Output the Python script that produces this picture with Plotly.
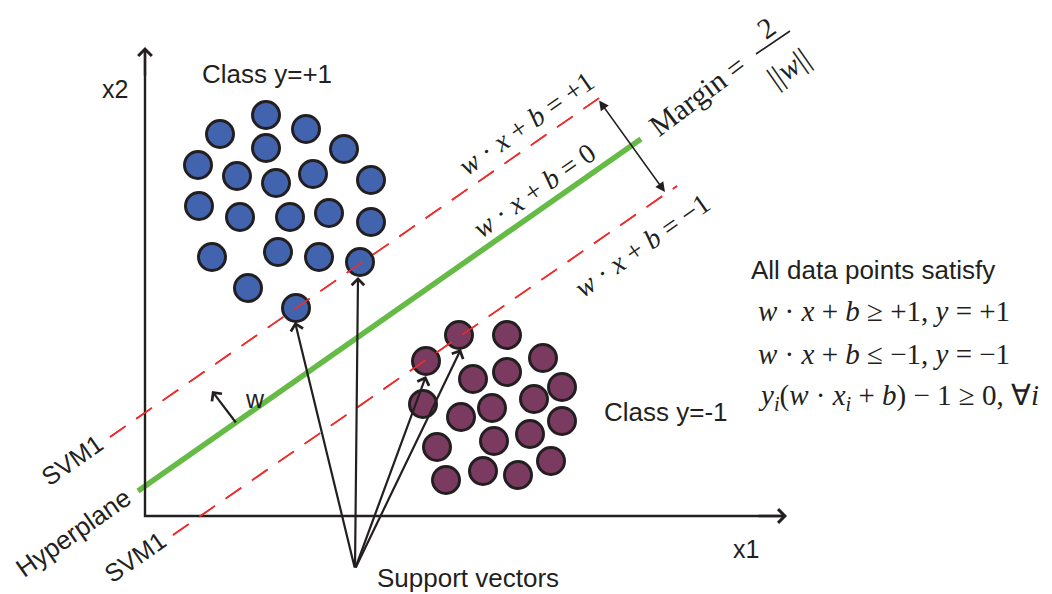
import plotly.graph_objects as go

# ---------------- data (diagram coordinates, pixel-like units, y downward) ----------------
blue_x = [266, 220, 306, 266, 344, 198, 237, 276, 313, 371, 199, 240, 290, 329, 371, 212, 278, 319, 360, 248, 296]
blue_y = [115, 134, 129, 148, 149, 165, 176, 183, 174, 180, 206, 217, 217, 213, 222, 257, 252, 257, 262, 288, 308]

purple_x = [459, 507, 426, 543, 473, 507, 562, 534, 423, 492, 461, 562, 494, 530, 437, 551, 446, 483, 518]
purple_y = [335, 335, 361, 358, 379, 372, 387, 399, 404, 408, 417, 421, 441, 434, 447, 461, 480, 471, 475]

hyper_x = [138, 641]
hyper_y = [491, 139]
plus_x = [110, 602]
plus_y = [437, 96]
minus_x = [173, 677]
minus_y = [535, 186]

axis_origin = (145, 516)
axis_x_end = 787
axis_y_end = 47

sv_origin = (355, 569)
sv_tip_x = [295, 358, 426, 461]
sv_tip_y = [322, 277, 376, 349]

# ---------------- figure ----------------
BLUE = "#4264ae"
PURPLE = "#7b3a60"
GREEN = "#66bb47"
RED = "#ee2c2c"
INK = "#231f20"
SANS = "Liberation Sans, Arial, sans-serif"
SERIF = "Liberation Serif, Times New Roman, serif"

fig = go.Figure()

def dashed(xs, ys):
    fig.add_trace(go.Scatter(x=xs, y=ys, mode="lines",
                             line=dict(color=RED, width=1.6, dash="19px,13px"),
                             hoverinfo="skip", showlegend=False))

dashed(plus_x, plus_y)
dashed(minus_x, minus_y)

# hyperplane
fig.add_trace(go.Scatter(x=hyper_x, y=hyper_y, mode="lines",
                         line=dict(color=GREEN, width=5.5),
                         hoverinfo="skip", showlegend=False))

# axes
ox, oy = axis_origin
fig.add_trace(go.Scatter(x=[ox, ox, axis_x_end - 2], y=[axis_y_end + 2, oy, oy], mode="lines",
                         line=dict(color=INK, width=2.4),
                         hoverinfo="skip", showlegend=False))

# class points
fig.add_trace(go.Scatter(x=blue_x, y=blue_y, mode="markers",
                         marker=dict(size=27, color=BLUE, line=dict(color=INK, width=3)),
                         hoverinfo="skip", showlegend=False))
fig.add_trace(go.Scatter(x=purple_x, y=purple_y, mode="markers",
                         marker=dict(size=27, color=PURPLE, line=dict(color=INK, width=3)),
                         hoverinfo="skip", showlegend=False))

# dashed lines pass over the support-vector circles
dashed(plus_x, plus_y)
dashed(minus_x, minus_y)

annotations = []

def arrow(x, y, ax, ay, head=4, width=2.2, size=1.1, both=False):
    d = dict(x=x, y=y, ax=ax, ay=ay, xref="x", yref="y", axref="x", ayref="y",
             showarrow=True, arrowhead=head, arrowsize=size, arrowwidth=width,
             arrowcolor=INK, text="")
    if both:
        d.update(startarrowhead=head, startarrowsize=size, arrowside="end+start")
    annotations.append(d)

# axis arrowheads
arrow(ox, axis_y_end, ox, axis_y_end + 30, width=2.4)
arrow(axis_x_end, oy, axis_x_end - 30, oy, width=2.4)

# support-vector arrows
for tx, ty in zip(sv_tip_x, sv_tip_y):
    arrow(tx, ty, sv_origin[0], sv_origin[1])

# w arrow
arrow(212, 391, 237, 424)

# margin double arrow
arrow(665, 192, 598, 99, head=2, width=1.5, size=1.3, both=True)

def txt(x, y, s, size=26, family=SANS, angle=0, xanchor="center"):
    annotations.append(dict(x=x, y=y, xref="x", yref="y", text=s, showarrow=False,
                            textangle=angle, xanchor=xanchor, yanchor="middle",
                            font=dict(family=family, size=size, color=INK)))

txt(115, 89, "x2", size=25)
txt(267, 74, "Class y=+1", size=26)
txt(602, 412, "Class y=-1", size=26, xanchor="left")
txt(746, 549, "x1", size=25)
txt(468, 578, "Support vectors", size=26)
txt(243, 399, "w", size=25, xanchor="left")
txt(72, 460, "SVM1", size=25, angle=-35)
txt(135, 557, "SVM1", size=25, angle=-35)
txt(73, 533, "Hyperplane", size=26, angle=-35)

EQ = "<i>w</i> · <i>x</i> + <i>b</i> = "
txt(526, 123, EQ + "+1", size=28, family=SERIF, angle=-35)
txt(534, 190, EQ + "0", size=28, family=SERIF, angle=-35)
txt(642, 245, EQ + "−1", size=28, family=SERIF, angle=-35)

# margin label
txt(697, 95, "Margin =", size=30, family=SERIF, angle=-37)
txt(766, 28, "2", size=29, family=SERIF, angle=-35)
txt(788, 67, "||<i>w</i>||", size=30, family=SERIF, angle=-35)

# right-hand conditions
txt(749, 270, "All data points satisfy", size=26, xanchor="left")
txt(756, 311, "<i>w</i> · <i>x</i> + <i>b</i> ≥ +1, <i>y</i> = +1", size=29, family=SERIF, xanchor="left")
txt(756, 354, "<i>w</i> · <i>x</i> + <i>b</i> ≤ −1, <i>y</i> = −1", size=29, family=SERIF, xanchor="left")
txt(756, 397, "<i>y<sub>i</sub></i>(<i>w</i> · <i>x<sub>i</sub></i> + <i>b</i>) − 1 ≥ 0, ∀<i>i</i>",
    size=29, family=SERIF, xanchor="left")

shapes = [dict(type="line", xref="x", yref="y", x0=756, y0=54, x1=790, y1=31,
               line=dict(color=INK, width=1.6))]

fig.update_layout(
    width=1052, height=594,
    margin=dict(l=0, r=0, t=0, b=0),
    paper_bgcolor="white", plot_bgcolor="white",
    xaxis=dict(range=[0, 1052], visible=False, fixedrange=True),
    yaxis=dict(range=[594, 0], visible=False, fixedrange=True),
    annotations=annotations, shapes=shapes,
    showlegend=False,
)

fig.write_html("out.html", config={"displayModeBar": False},
               post_script="document.body.style.margin='0';document.body.style.overflow='hidden';")
